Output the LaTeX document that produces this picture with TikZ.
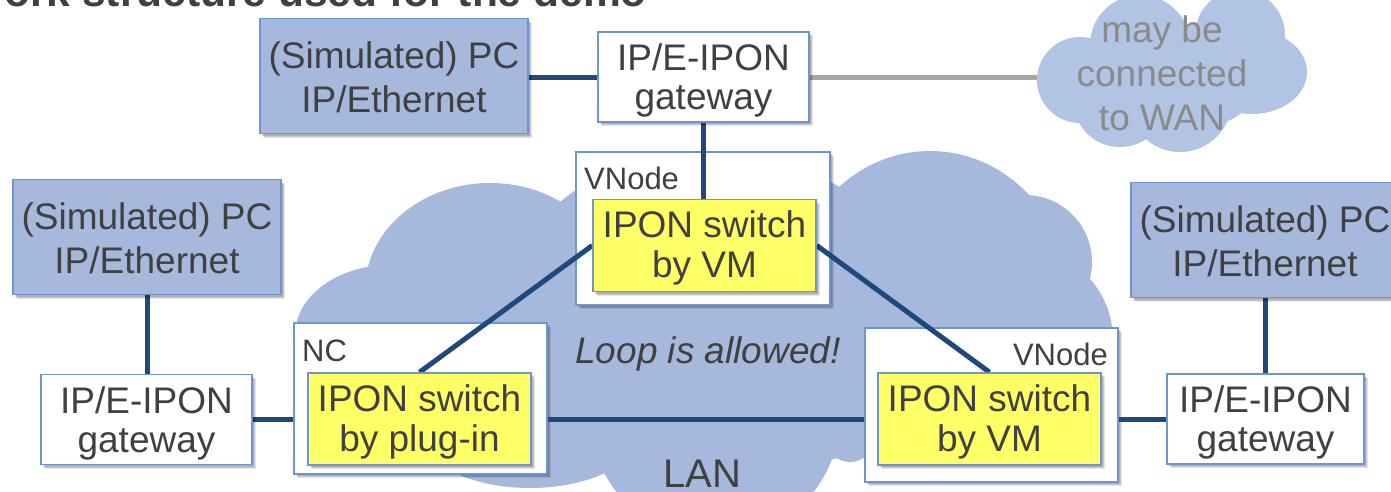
\documentclass[tikz,border=0pt]{standalone}
\usepackage{fontspec}
\setmainfont{Liberation Sans}
\usetikzlibrary{shadows}

\definecolor{txt}{HTML}{404040}
\definecolor{lanfill}{HTML}{A6B9DC}
\definecolor{wanfill}{HTML}{B1C4E3}
\definecolor{pcfill}{HTML}{A6B9DC}
\definecolor{edge}{HTML}{7094CF}
\definecolor{link}{HTML}{1F497D}
\definecolor{wanline}{HTML}{A6A6A6}
\definecolor{wantxt}{HTML}{8A8A8A}
\definecolor{swfill}{HTML}{FFFF66}

\pgfdeclarelayer{cloudlayer}
\pgfdeclarelayer{outerlayer}
\pgfdeclarelayer{linelayer}
\pgfsetlayers{cloudlayer,outerlayer,linelayer,main}

% line strut: height \strutht, depth \strutdp (set per box style)
\def\strutht{0pt}\def\strutdp{0pt}
\newcommand\st{\rule[-\strutdp]{0pt}{\dimexpr\strutht+\strutdp\relax}}

\tikzset{
  softshadow/.style={
    drop shadow={shadow xshift=4pt, shadow yshift=-4pt, opacity=0.10, fill=black},
    drop shadow={shadow xshift=3pt, shadow yshift=-3pt, opacity=0.12, fill=black},
    drop shadow={shadow xshift=2pt, shadow yshift=-2pt, opacity=0.12, fill=black}},
  box/.style={draw=edge, line width=1.5pt, inner sep=0pt, align=center, text=txt, softshadow},
  pcbox/.style={box, fill=pcfill, minimum width=268pt, minimum height=115pt,
    font=\fontsize{37}{43}\selectfont,
    execute at begin node={\def\strutht{36pt}\def\strutdp{7pt}}},
  gwbox/.style={box, fill=white, minimum width=211pt, minimum height=90pt,
    font=\fontsize{37}{39}\selectfont,
    execute at begin node={\def\strutht{34.5pt}\def\strutdp{4.5pt}}},
  swbox/.style={box, fill=swfill, minimum width=223pt, minimum height=92pt,
    font=\fontsize{37}{40}\selectfont,
    execute at begin node={\def\strutht{32pt}\def\strutdp{8pt}}},
  outerbox/.style={box, fill=white},
  tag/.style={inner sep=0pt, text=txt, font=\fontsize{31}{36}\selectfont},
  link/.style={draw=link, line width=5pt},
  wanlink/.style={draw=wanline, line width=5pt},
}

\begin{document}
\begin{tikzpicture}[x=1pt, y=-1pt]
\useasboundingbox (0,0) rectangle (1391,491);

\begin{pgfonlayer}{cloudlayer}
  \fill[white] (0,0) rectangle (1391,491);
  % LAN cloud built from overlapping puffs
  \fill[lanfill]
    (390,335) ellipse [x radius=95pt, y radius=70pt]
    (490,290) ellipse [x radius=125pt, y radius=107pt]
    (710,280) ellipse [x radius=190pt, y radius=127pt]
    (930,301) ellipse [x radius=140pt, y radius=150pt]
    (1025,262) circle [radius=67pt]
    (1020,340) circle [radius=93pt]
    (530,420) ellipse [x radius=120pt, y radius=68pt]
    (715,415) circle [radius=125pt]
    (960,360) circle [radius=120pt]
    (850,438) circle [radius=24pt]
    (705,330) ellipse [x radius=330pt, y radius=140pt];
\end{pgfonlayer}

% title line, partly above the page
\node[anchor=base east, inner sep=0pt, text=txt,
      font=\fontsize{42.5}{50}\selectfont\bfseries] (title) at (647,6)
      {ork structure used for the demo};

% container boxes
\begin{pgfonlayer}{outerlayer}
  \node[outerbox, minimum width=254pt, minimum height=153pt] (vnT) at (703,228.5) {};
  \node[outerbox, minimum width=253pt, minimum height=151pt] (nc) at (420.5,398.5) {};
  \node[outerbox, minimum width=253pt, minimum height=154pt] (vnR) at (991.5,405) {};
\end{pgfonlayer}

\node[tag, anchor=base west] (vnTlab) at (584,189) {VNode};
\node[tag, anchor=base west] (nclab) at (302,361) {NC};
\node[tag, anchor=base east] (vnRlab) at (1108,365) {VNode};

% switches
\node[swbox] (swT) at (704.5,245.5) {\st IPON switch\\\st by VM};
\node[swbox] (swL) at (419.5,419) {\st IPON switch\\\st by plug-in};
\node[swbox] (swR) at (989.5,419) {\st IPON switch\\\st by VM};

% hosts and gateways
\node[pcbox] (pcT) at (394,76) {\st (Simulated) PC\\\st IP/Ethernet};
\node[gwbox] (gwT) at (703.5,77) {\st IP/E-IPON\\\st gateway};
\node[pcbox] (pcL) at (147,237) {\st (Simulated) PC\\\st IP/Ethernet};
\node[gwbox] (gwL) at (146.5,419.5) {\st IP/E-IPON\\\st gateway};
\node[pcbox] (pcR) at (1265,240) {\st (Simulated) PC\\\st IP/Ethernet};
\node[gwbox, minimum width=197pt] (gwR) at (1265.5,419) {\st IP/E-IPON\\\st gateway};

% texts on the LAN cloud
\node[anchor=base, inner sep=0pt, text=txt, font=\fontsize{37}{44}\selectfont\itshape]
  (loop) at (708,363) {Loop is allowed!};
\node[anchor=base, inner sep=0pt, text=txt, font=\fontsize{40}{44}\selectfont]
  (lan) at (702,487) {LAN};

% WAN cloud
\coordinate (wanc) at (1172,77);
\fill[wanfill]
  (1080,80) circle [radius=43pt]
  (1120,100) circle [radius=47pt]
  (1180,100) circle [radius=52pt]
  (1252,72) ellipse [x radius=55pt, y radius=42pt]
  (1240,35) circle [radius=45pt]
  (1140,45) circle [radius=50pt]
  (1172,78) ellipse [x radius=90pt, y radius=55pt];
\node[align=center, inner sep=0pt, text=wantxt, font=\fontsize{37}{44}\selectfont,
      execute at begin node={\def\strutht{33pt}\def\strutdp{11pt}}]
  (wantext) at (1162,75) {\st may be\\\st connected\\\st to WAN};

% links
\begin{pgfonlayer}{linelayer}
  \draw[link] (gwT.west -| pcT.east) -- (gwT.west);
  \draw[link] (gwT.south) -- (gwT.south |- swT.north);
  \draw[wanlink] (gwT.east) -- (gwT.east -| wanc);
  \draw[link] (pcL.south) -- (pcL.south |- gwL.north);
  \draw[link] (gwL.east) -- (gwL.east -| nc.west);
  \draw[link] (swL.north) -- (swT.west);
  \draw[link] (swT.east) -- (swR.north);
  \draw[link] (nc.east |- swL.east) -- (vnR.west |- swL.east);
  \draw[link] (vnR.east |- gwR.west) -- (gwR.west);
  \draw[link] (pcR.south) -- (pcR.south |- gwR.north);
\end{pgfonlayer}
\end{tikzpicture}
\end{document}
